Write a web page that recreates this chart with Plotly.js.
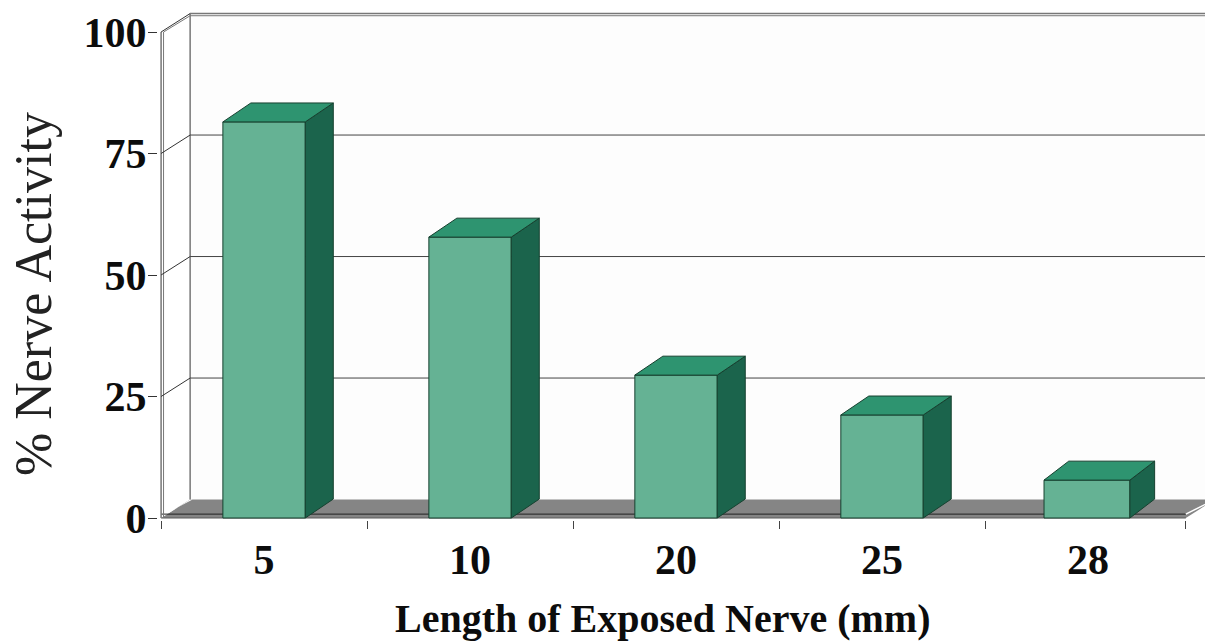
<!DOCTYPE html>
<html><head><meta charset="utf-8">
<script src="https://cdn.plot.ly/plotly-3.0.1.min.js"></script>
<style>html,body{margin:0;padding:0;background:#fff;overflow:hidden}</style>
</head><body><div id="chart" style="width:1205px;height:642px"></div>
<script>
const categories = ['5','10','20','25','28'];
const nerveActivity = [81.5, 57.8, 29.4, 21.2, 7.8];
const barWidths = [0.4, 0.4, 0.4, 0.4, 0.417];
const barCenters = [0, 1, 2, 3, 3.995];
const barDepths = [0.136, 0.136, 0.136, 0.136, 0.12];
const yTicks = [0, 25, 50, 75, 100];
const xBoundaries = [-0.5, 0.5, 1.5, 2.5, 3.5, 4.475];

const wallDX = 0.141, wallDY = 3.8;   // depth of the back wall in axis units
const barDY = 3.9;                    // depth of each bar in axis units
const xLeft = -0.5, xRight = 4.475, yTop = 100;

const FRONT = '#65b294', TOP = '#2e9470', SIDE = '#1b644c', EDGE = '#16402f', FLOOR = '#858585', WALL = '#777777';

const line = (x0, y0, x1, y1, color, width) => ({type:'line', xref:'x', yref:'y', layer:'below', x0, y0, x1, y1, line:{color, width}});
const poly = (pts, fill) => ({type:'path', xref:'x', yref:'y', layer:'below',
  path:'M' + pts.map(p => p[0] + ',' + p[1]).join('L') + 'Z', fillcolor:fill, line:{width:0}});

const shapes = [
  poly([[xLeft+wallDX,wallDY],[xLeft+wallDX,yTop+wallDY],[xRight+wallDX+0.2,yTop+wallDY],[xRight+wallDX+0.2,wallDY]], '#fdfdfd'),
  poly([[xLeft,0],[xLeft+wallDX,wallDY],[xRight+wallDX,wallDY],[xRight,0]], FLOOR),
  poly([[xLeft,0],[xLeft+wallDX,wallDY],[xLeft+wallDX+0.012,wallDY],[xLeft+0.014,0.7]], '#ffffff'),
  line(xLeft, 0, xRight, 0, '#5a5a5a', 1),
  line(xLeft, 0.8, xRight, 0.8, '#222222', 1),
  line(xRight, 0.8, xRight+wallDX, wallDY, '#ffffff', 1.5),
  line(xLeft, 0, xLeft, yTop, WALL, 1.5),
  line(xLeft+0.012, 0, xLeft+0.012, yTop, WALL, 1),
  line(xLeft+wallDX, wallDY, xLeft+wallDX, yTop+wallDY, WALL, 1.5),
  line(xLeft+wallDX, yTop+wallDY, xRight+wallDX+0.2, yTop+wallDY, WALL, 1.5),
  line(xLeft+wallDX, yTop+wallDY-0.45, xRight+wallDX+0.2, yTop+wallDY-0.45, WALL, 1),
  line(xLeft+0.012, yTop, xLeft+wallDX, yTop+wallDY-0.45, WALL, 1)
];
yTicks.forEach(t => {
  if (t > 0) {
    shapes.push(line(xLeft, t, xLeft+wallDX, t+wallDY, '#333333', 1));
    if (t < yTop) shapes.push(line(xLeft+wallDX, t+wallDY, xRight+wallDX+0.2, t+wallDY, '#444444', 1));
  }
});

const edge = {color:EDGE, width:1};
const traces = [{
  type:'bar', x:barCenters, y:nerveActivity, width:barWidths,
  marker:{color:FRONT, line:edge}, hoverinfo:'skip', showlegend:false
}];
barCenters.forEach((c, i) => {
  const l = c - barWidths[i]/2, r = c + barWidths[i]/2, v = nerveActivity[i], d = barDepths[i];
  traces.push({type:'scatter', mode:'lines', fill:'toself', fillcolor:SIDE, line:edge, hoverinfo:'skip', showlegend:false,
    x:[r, r+d, r+d, r, r], y:[0, barDY, v+barDY, v, 0]});
  traces.push({type:'scatter', mode:'lines', fill:'toself', fillcolor:TOP, line:edge, hoverinfo:'skip', showlegend:false,
    x:[l, l+d, r+d, r, l], y:[v, v+barDY, v+barDY, v, v]});
});

const layout = {
  width:1205, height:642, paper_bgcolor:'#ffffff', plot_bgcolor:'#ffffff',
  margin:{l:158, r:0, t:8, b:122}, showlegend:false, shapes,
  font:{family:'"Liberation Serif", serif', color:'#0c0c0c'},
  xaxis:{
    type:'linear', range:[-0.515, 4.568], showgrid:false, zeroline:false, showline:false,
    tickmode:'array', tickvals:barCenters.map(Math.round), ticktext:categories,
    ticks:'', ticklabelstandoff:11,
    tickfont:{size:42, family:'"Liberation Serif", serif', weight:700, color:'#0c0c0c'},
    minor:{tickmode:'array', tickvals:xBoundaries, ticks:'outside', ticklen:8, tickcolor:'#444444', tickwidth:1, showgrid:false}
  },
  yaxis:{
    range:[-0.41, 104.94], showgrid:false, zeroline:false, showline:false,
    tickmode:'array', tickvals:yTicks, ticks:'outside', ticklen:9, tickcolor:'#333333', tickwidth:1,
    ticklabelstandoff:-7,
    tickfont:{size:42, family:'"Liberation Serif", serif', weight:700, color:'#0c0c0c'}
  },
  annotations:[
    {text:'<b>Length of Exposed Nerve (mm)</b>', xref:'paper', yref:'paper', x:(663-158)/1047, y:-(618-520)/512,
     xanchor:'center', yanchor:'middle', showarrow:false, font:{size:40, family:'"Liberation Serif", serif', color:'#0c0c0c'}},
    {text:'% Nerve Activity', xref:'paper', yref:'paper', x:-(158-33)/1047, y:(520-294)/512, textangle:-90,
     xanchor:'center', yanchor:'middle', showarrow:false, font:{size:52, family:'"Liberation Serif", serif', color:'#222222'}}
  ],
  bargap:0
};
Plotly.newPlot('chart', traces, layout, {displayModeBar:false, staticPlot:true});
</script></body></html>
